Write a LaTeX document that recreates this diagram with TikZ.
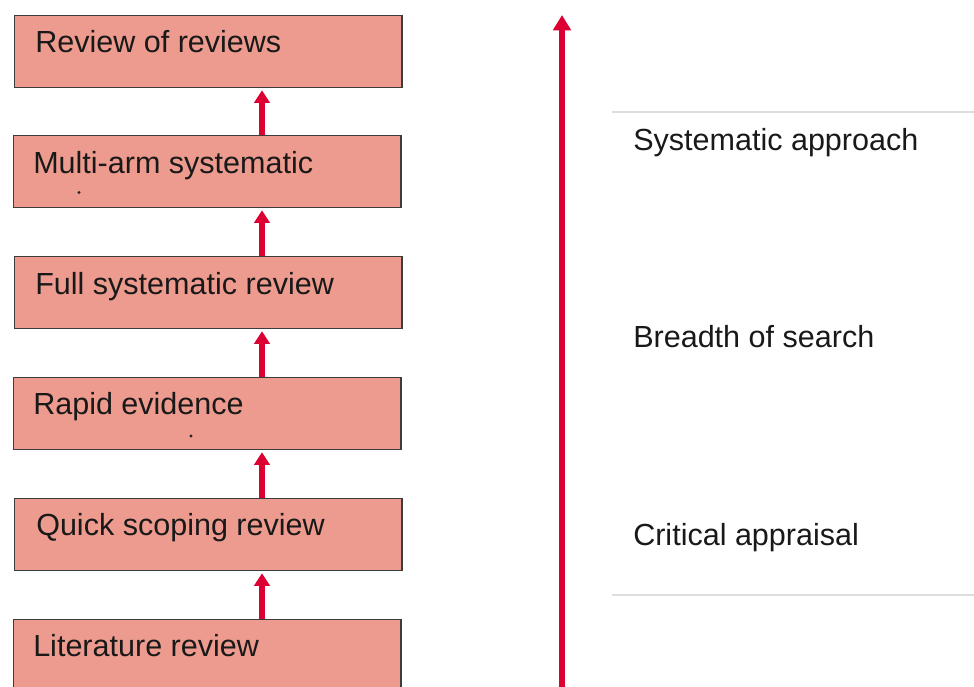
\documentclass[tikz,border=0pt]{standalone}
\usepackage{fontspec}
\setmainfont{Liberation Sans}
\usetikzlibrary{arrows.meta}
\definecolor{boxfill}{RGB}{237,155,142}
\definecolor{boxline}{RGB}{60,60,60}
\definecolor{arrred}{RGB}{220,0,50}
\definecolor{rule}{RGB}{222,222,222}
\begin{document}
\begin{tikzpicture}[x=0.75pt,y=-0.75pt,
  box/.style={draw=boxline,line width=1.3pt,fill=boxfill,rectangle,minimum width=290.5pt,minimum height=54pt,inner sep=0pt,anchor=north west},
  lbl/.style={anchor=base west,inner sep=0pt,font=\fontsize{22.9pt}{27pt}\selectfont,text=black!90},
  smallarr/.style={draw=arrred,line width=3.8pt,-{Triangle[width=11.5pt,length=9.5pt]},shorten >=1.5pt},
  bigarr/.style={draw=arrred,line width=3.8pt,-{Triangle[width=13pt,length=11.5pt]}},
  sep/.style={draw=rule,line width=1.2pt}]
\useasboundingbox (0,0) rectangle (974,686);
% boxes
\node[box] (b1) at (13.5,14.5) {};
\node[box] (b2) at (12.5,134.5) {};
\node[box] (b3) at (13.5,255.5) {};
\node[box] (b4) at (12.5,376.5) {};
\node[box] (b5) at (13.5,497.5) {};
\node[box,minimum height=70pt] (b6) at (12.5,618.5) {};
% box texts
\node[lbl] (t1) at (35,52) {Review of reviews};
\node[lbl] (t2) at (33,173) {Multi-arm systematic};
\node[lbl] (t3) at (35,294) {Full systematic review};
\node[lbl] (t4) at (33,414) {Rapid evidence};
\node[lbl] (t5) at (36,535) {Quick scoping review};
\node[lbl] (t6) at (33,656) {Literature review};
\fill[black!85] (79,192.5) circle (1.2pt);
\fill[black!85] (191,436) circle (1.2pt);
% small arrows
\coordinate (ax) at (262,0);
\draw[smallarr] (b2.north -| ax) -- (b1.south -| ax);
\draw[smallarr] (b3.north -| ax) -- (b2.south -| ax);
\draw[smallarr] (b4.north -| ax) -- (b3.south -| ax);
\draw[smallarr] (b5.north -| ax) -- (b4.south -| ax);
\draw[smallarr] (b6.north -| ax) -- (b5.south -| ax);
% big arrow
\coordinate (bigbot) at (562,690);
\coordinate (bigtop) at (562,15);
\draw[bigarr] (bigbot) -- (bigtop);
% separators
\coordinate (s1a) at (612,112);
\coordinate (s1b) at (974,112);
\coordinate (s2a) at (612,595);
\coordinate (s2b) at (974,595);
\draw[sep] (s1a) -- (s1b);
\draw[sep] (s2a) -- (s2b);
% right texts
\node[lbl] (r1) at (633,150) {Systematic approach};
\node[lbl] (r2) at (633,347) {Breadth of search};
\node[lbl] (r3) at (633,545) {Critical appraisal};
\end{tikzpicture}
\end{document}
